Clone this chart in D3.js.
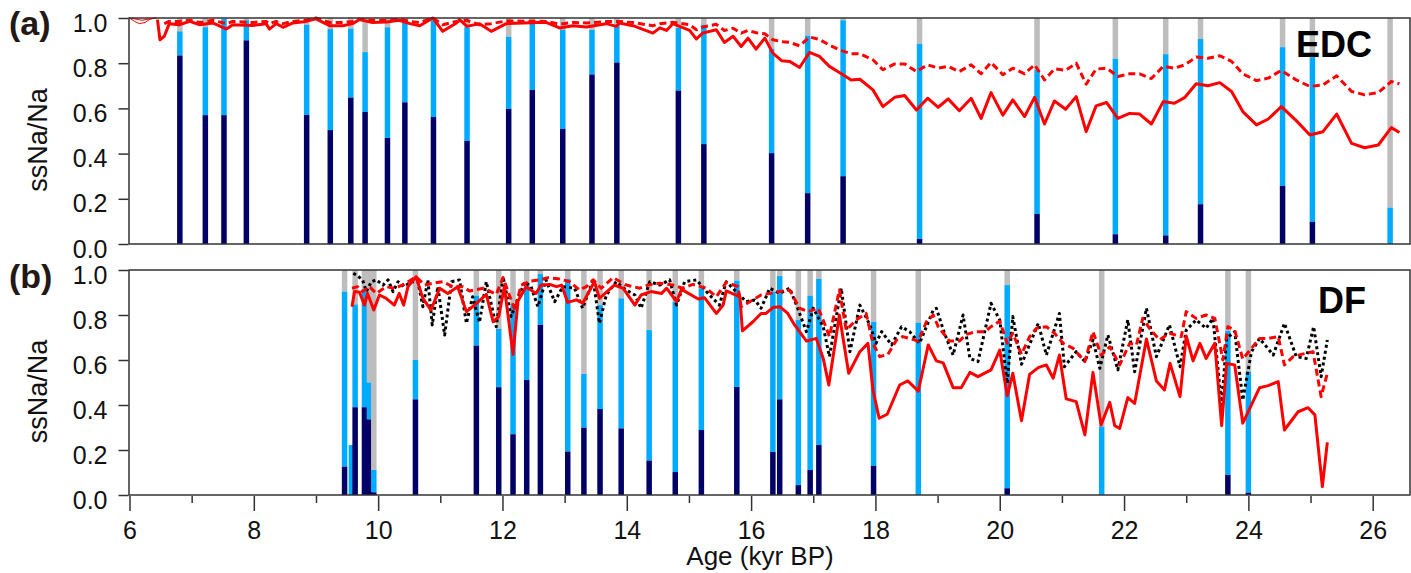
<!DOCTYPE html>
<html>
<head>
<meta charset="utf-8">
<script src="https://cdn.jsdelivr.net/npm/d3@7"></script>
<style>
  body { margin: 0; background: #fff; }
  svg { display: block; font-family: "Liberation Sans", Arial, Helvetica, sans-serif; }
</style>
</head>
<body>
<div id="chart"></div>
<script>
// ---- data ----
const majorAges = [6, 8, 10, 12, 14, 16, 18, 20, 22, 24, 26]
const minorAges = [7, 9, 11, 13, 15, 17, 19, 21, 23, 25]
const ratioTicks = [0, 0.2, 0.4, 0.6, 0.8, 1.0]

// EDC (a): stacked bars, dark part / light blue top / grey up to 1
const edcBarAge  = [6.81, 7.22, 7.52, 7.88, 8.85, 9.23, 9.56, 9.79, 10.15, 10.43, 10.89, 11.43, 12.10, 12.48, 12.97, 13.44, 13.84, 14.83, 15.24, 16.33, 16.91, 17.48, 18.71, 20.60, 21.86, 22.67, 23.23, 24.55, 25.03, 26.28]
const edcBarDark = [0.834, 0.570, 0.570, 0.901, 0.571, 0.504, 0.648, 0.584, 0.469, 0.627, 0.562, 0.456, 0.598, 0.682, 0.509, 0.750, 0.803, 0.679, 0.442, 0.402, 0.225, 0.300, 0.022, 0.133, 0.043, 0.038, 0.176, 0.257, 0.098, 0]
const edcBarBlue = [0.941, 0.959, 0.996, 0.990, 0.970, 0.951, 0.953, 0.849, 0.959, 0.985, 0.990, 0.959, 0.916, 0.985, 0.948, 0.948, 0.970, 0.956, 0.970, 0.864, 0.922, 0.990, 0.886, 0.771, 0.820, 0.840, 0.907, 0.871, 0.827, 0.161]
const edcBarTop  = [1, 1, 1, 1, 1, 1, 1, 1, 1, 1, 1, 1, 1, 1, 1, 1, 1, 1, 1, 1, 1, 1, 1, 1, 1, 1, 1, 1, 1, 1]

// thin start of the EDC curves
const edcThinA = [[6.0, 1.0], [6.08, 0.985], [6.16, 0.975], [6.25, 0.98], [6.33, 0.995], [6.43, 1.0]]
const edcThinB = [[6.0, 1.0], [6.1, 0.995], [6.2, 0.99], [6.3, 0.995], [6.43, 1.0]]

const edcSolid = [[6.45,0.993],[6.49,0.904],[6.56,0.919],[6.64,0.975],[6.80,0.970],[6.97,0.985],[7.13,0.970],[7.34,0.978],[7.56,0.951],[7.66,0.970],[7.98,0.967],[8.20,0.975],[8.25,0.951],[8.36,0.975],[8.47,0.959],[8.63,0.978],[8.84,0.985],[9.00,0.996],[9.22,0.966],[9.43,0.966],[9.59,0.975],[9.70,0.993],[9.91,0.980],[10.13,0.982],[10.34,0.990],[10.51,0.975],[10.67,0.966],[10.88,1.0],[11.04,0.941],[11.26,0.978],[11.31,0.993],[11.43,0.963],[11.63,0.975],[11.82,0.941],[12.06,0.975],[12.70,0.981],[12.92,0.956],[13.13,0.966],[13.35,0.960],[13.67,0.975],[13.83,0.963],[13.88,0.978],[14.10,0.966],[14.42,0.933],[14.53,0.956],[14.64,0.945],[14.74,0.975],[15.01,0.945],[15.12,0.907],[15.22,0.933],[15.44,0.948],[15.57,0.892],[15.71,0.919],[15.84,0.874],[15.95,0.911],[16.08,0.862],[16.22,0.911],[16.35,0.845],[16.49,0.811],[16.62,0.808],[16.78,0.781],[16.94,0.848],[17.10,0.830],[17.26,0.786],[17.42,0.759],[17.61,0.726],[17.75,0.729],[17.96,0.682],[18.12,0.608],[18.31,0.649],[18.47,0.657],[18.66,0.593],[18.84,0.645],[19.01,0.605],[19.17,0.642],[19.35,0.590],[19.54,0.645],[19.70,0.556],[19.86,0.670],[20.05,0.570],[20.21,0.638],[20.40,0.564],[20.56,0.649],[20.72,0.531],[20.88,0.633],[21.06,0.596],[21.23,0.652],[21.39,0.497],[21.55,0.611],[21.72,0.626],[21.90,0.556],[22.09,0.578],[22.25,0.575],[22.44,0.531],[22.63,0.630],[22.81,0.623],[22.98,0.649],[23.16,0.709],[23.35,0.700],[23.54,0.714],[23.73,0.675],[23.91,0.586],[24.13,0.527],[24.32,0.553],[24.53,0.608],[24.77,0.546],[24.99,0.482],[25.20,0.497],[25.42,0.575],[25.66,0.445],[25.87,0.426],[26.09,0.438],[26.30,0.515],[26.43,0.493]]

const edcDash = [[6.56,0.975],[6.64,0.985],[6.80,0.985],[6.97,0.99],[7.13,0.98],[7.34,0.99],[7.56,0.975],[7.66,0.985],[7.98,0.98],[8.20,0.985],[8.25,0.975],[8.36,0.985],[8.47,0.975],[8.63,0.985],[8.84,0.99],[9.00,1.0],[9.22,0.98],[9.43,0.98],[9.59,0.985],[9.70,0.995],[9.91,0.99],[10.13,0.99],[10.34,0.995],[10.51,0.985],[10.67,0.98],[10.88,1.0],[11.04,0.97],[11.26,0.985],[11.42,0.99],[11.63,0.97],[11.82,0.975],[12.06,0.987],[12.70,0.985],[12.92,0.973],[13.13,0.98],[13.35,0.978],[13.67,0.984],[13.88,0.984],[14.10,0.98],[14.42,0.966],[14.53,0.975],[14.74,0.981],[15.01,0.97],[15.12,0.948],[15.22,0.96],[15.44,0.972],[15.57,0.945],[15.71,0.955],[15.84,0.933],[15.95,0.945],[16.08,0.935],[16.22,0.93],[16.35,0.904],[16.49,0.895],[16.62,0.892],[16.78,0.877],[16.94,0.916],[17.10,0.905],[17.26,0.88],[17.42,0.859],[17.61,0.842],[17.75,0.842],[17.96,0.815],[18.12,0.771],[18.31,0.797],[18.47,0.797],[18.66,0.763],[18.84,0.793],[19.01,0.778],[19.17,0.786],[19.35,0.763],[19.54,0.793],[19.70,0.753],[19.86,0.803],[20.05,0.749],[20.21,0.778],[20.40,0.753],[20.56,0.793],[20.72,0.726],[20.88,0.775],[21.06,0.768],[21.23,0.800],[21.39,0.707],[21.55,0.774],[21.72,0.778],[21.90,0.741],[22.09,0.753],[22.25,0.753],[22.44,0.732],[22.63,0.786],[22.81,0.778],[22.98,0.793],[23.16,0.827],[23.35,0.822],[23.54,0.833],[23.73,0.808],[23.91,0.753],[24.13,0.723],[24.32,0.734],[24.53,0.768],[24.77,0.726],[24.99,0.697],[25.20,0.704],[25.42,0.744],[25.66,0.675],[25.87,0.660],[26.09,0.670],[26.30,0.719],[26.43,0.709]]

// DF (b)
const dfBarAge  = [9.46, 9.57, 9.63, 9.78, 9.86, 9.93, 10.60, 11.58, 11.94, 12.17, 12.39, 12.61, 13.05, 13.31, 13.57, 13.91, 14.36, 14.78, 15.20, 15.77, 16.35, 16.46, 16.76, 16.95, 17.09, 17.97, 18.69, 20.12, 21.64, 23.67, 24.00]
const dfBarDark = [0.126, 0, 0.39, 0.39, 0.336, 0.012, 0.425, 0.664, 0.479, 0.270, 0.511, 0.756, 0.193, 0.299, 0.382, 0.296, 0.153, 0.102, 0.289, 0.480, 0.191, 0.425, 0.044, 0.111, 0.222, 0.130, 0, 0.03, 0, 0.089, 0.01]
const dfBarBlue = [0.904, 0.222, 0.847, 0.914, 0.50, 0.111, 0.60, 0.886, 0.738, 0.844, 0.941, 0.982, 0.96, 0.538, 0.844, 0.874, 0.733, 0.859, 0.919, 0.953, 0.904, 0.973, 0.778, 0.886, 0.96, 0.77, 0.766, 0.933, 0.304, 0.729, 0.548]
const dfBarTop  = [1, 0.222, 1, 1, 1, 1, 1, 1, 1, 1, 1, 1, 1, 1, 1, 1, 1, 1, 1, 1, 1, 1, 1, 1, 1, 1, 1, 1, 1, 1, 1]

const dfSolid = [[9.58,0.837],[9.62,0.904],[9.70,0.901],[9.78,0.844],[9.83,0.896],[9.93,0.822],[10.02,0.889],[10.13,0.874],[10.26,0.844],[10.34,0.896],[10.41,0.844],[10.48,0.926],[10.61,0.970],[10.72,0.874],[10.85,0.822],[10.99,0.919],[11.12,0.896],[11.28,0.926],[11.42,0.815],[11.55,0.844],[11.74,0.892],[11.85,0.770],[11.94,0.793],[12.03,0.926],[12.17,0.625],[12.25,0.862],[12.38,0.926],[12.54,0.896],[12.62,0.933],[12.76,0.936],[12.87,0.926],[12.95,0.933],[13.05,0.856],[13.19,0.867],[13.29,0.852],[13.48,0.948],[13.56,0.874],[13.80,0.933],[13.94,0.919],[14.13,0.844],[14.23,0.889],[14.39,0.904],[14.56,0.896],[14.64,0.919],[14.80,0.859],[14.88,0.914],[15.15,0.871],[15.25,0.877],[15.44,0.807],[15.55,0.844],[15.60,0.907],[15.82,0.881],[15.86,0.729],[16.03,0.770],[16.16,0.807],[16.24,0.807],[16.35,0.833],[16.46,0.837],[16.59,0.807],[16.70,0.756],[16.89,0.684],[17.05,0.696],[17.16,0.607],[17.25,0.489],[17.42,0.800],[17.57,0.541],[17.75,0.637],[17.88,0.674],[17.96,0.467],[18.06,0.341],[18.19,0.359],[18.39,0.489],[18.52,0.507],[18.69,0.462],[18.85,0.667],[18.98,0.596],[19.09,0.587],[19.25,0.477],[19.38,0.477],[19.52,0.545],[19.65,0.526],[19.86,0.556],[20.00,0.644],[20.12,0.441],[20.21,0.541],[20.35,0.330],[20.48,0.536],[20.62,0.566],[20.75,0.578],[20.86,0.519],[20.96,0.622],[21.07,0.427],[21.23,0.415],[21.37,0.267],[21.50,0.545],[21.63,0.311],[21.77,0.412],[21.85,0.308],[21.93,0.296],[22.06,0.433],[22.17,0.407],[22.36,0.693],[22.52,0.507],[22.65,0.467],[22.74,0.585],[22.90,0.437],[23.00,0.707],[23.11,0.596],[23.22,0.674],[23.32,0.607],[23.46,0.674],[23.57,0.308],[23.65,0.585],[23.78,0.578],[23.91,0.319],[24.18,0.477],[24.32,0.486],[24.48,0.504],[24.58,0.289],[24.80,0.370],[24.96,0.388],[25.07,0.356],[25.19,0.037],[25.27,0.234]]

const dfDash = [[9.58,0.919],[9.67,0.926],[9.75,0.904],[9.86,0.926],[9.97,0.896],[10.13,0.926],[10.26,0.919],[10.42,0.936],[10.61,0.970],[10.75,0.933],[10.88,0.941],[11.04,0.948],[11.20,0.926],[11.36,0.926],[11.47,0.907],[11.69,0.919],[11.90,0.892],[12.01,0.966],[12.11,0.889],[12.20,0.822],[12.30,0.933],[12.46,0.951],[12.60,0.956],[12.73,0.966],[12.92,0.960],[13.08,0.948],[13.24,0.911],[13.35,0.926],[13.46,0.956],[13.59,0.919],[13.78,0.966],[13.99,0.933],[14.21,0.919],[14.34,0.933],[14.53,0.941],[14.74,0.933],[14.90,0.919],[15.06,0.936],[15.28,0.919],[15.44,0.881],[15.60,0.945],[15.79,0.926],[15.84,0.837],[15.98,0.859],[16.16,0.889],[16.30,0.896],[16.46,0.904],[16.62,0.911],[16.78,0.830],[16.92,0.815],[17.08,0.830],[17.18,0.763],[17.26,0.704],[17.42,0.911],[17.53,0.733],[17.69,0.778],[17.85,0.807],[17.96,0.674],[18.07,0.615],[18.20,0.625],[18.34,0.689],[18.44,0.704],[18.55,0.696],[18.69,0.684],[18.82,0.770],[18.93,0.800],[19.01,0.748],[19.19,0.684],[19.35,0.684],[19.46,0.714],[19.62,0.726],[19.76,0.726],[19.86,0.748],[20.00,0.773],[20.12,0.674],[20.21,0.719],[20.35,0.625],[20.48,0.704],[20.59,0.741],[20.75,0.748],[20.88,0.719],[21.02,0.674],[21.18,0.652],[21.37,0.593],[21.50,0.726],[21.63,0.622],[21.77,0.659],[21.93,0.578],[22.09,0.674],[22.20,0.667],[22.30,0.785],[22.41,0.741],[22.57,0.689],[22.73,0.719],[22.92,0.704],[23.00,0.815],[23.16,0.785],[23.32,0.800],[23.46,0.785],[23.59,0.600],[23.67,0.748],[23.78,0.733],[23.91,0.604],[24.05,0.652],[24.18,0.696],[24.32,0.696],[24.48,0.704],[24.58,0.578],[24.72,0.615],[24.85,0.625],[25.04,0.637],[25.17,0.437],[25.27,0.541]]

const dfDot = [[9.60,0.985],[9.65,0.978],[9.75,0.956],[9.81,0.904],[9.89,0.948],[9.97,0.956],[10.08,0.933],[10.16,0.956],[10.24,0.904],[10.32,0.948],[10.42,0.926],[10.53,0.948],[10.64,0.948],[10.72,0.837],[10.80,0.956],[10.87,0.756],[10.96,0.926],[11.07,0.711],[11.18,0.948],[11.31,0.956],[11.42,0.763],[11.52,0.881],[11.63,0.767],[11.74,0.948],[11.90,0.748],[12.01,0.970],[12.14,0.793],[12.25,0.874],[12.36,0.948],[12.46,0.926],[12.57,0.837],[12.70,0.956],[12.84,0.859],[12.97,0.926],[13.16,0.919],[13.29,0.830],[13.46,0.956],[13.56,0.763],[13.67,0.889],[13.83,0.948],[13.99,0.911],[14.13,0.889],[14.23,0.830],[14.37,0.948],[14.53,0.933],[14.69,0.956],[14.80,0.844],[14.93,0.948],[15.12,0.956],[15.33,0.889],[15.49,0.844],[15.60,0.948],[15.76,0.904],[15.92,0.859],[16.06,0.867],[16.16,0.830],[16.30,0.919],[16.46,0.896],[16.62,0.919],[16.75,0.830],[16.89,0.726],[17.00,0.830],[17.16,0.748],[17.26,0.615],[17.45,0.919],[17.59,0.637],[17.75,0.844],[17.91,0.756],[18.01,0.674],[18.10,0.726],[18.26,0.667],[18.42,0.748],[18.55,0.726],[18.71,0.674],[18.93,0.822],[18.98,0.830],[19.11,0.719],[19.25,0.622],[19.41,0.800],[19.52,0.607],[19.65,0.593],[19.86,0.852],[20.00,0.778],[20.12,0.496],[20.21,0.793],[20.35,0.581],[20.62,0.763],[20.75,0.622],[20.96,0.807],[21.04,0.570],[21.23,0.637],[21.37,0.593],[21.50,0.689],[21.61,0.563],[21.74,0.711],[21.90,0.556],[22.06,0.778],[22.17,0.548],[22.36,0.830],[22.52,0.615],[22.73,0.756],[22.90,0.570],[23.00,0.733],[23.16,0.778],[23.32,0.741],[23.43,0.785],[23.57,0.400],[23.65,0.696],[23.78,0.726],[23.91,0.422],[24.05,0.637],[24.18,0.696],[24.40,0.622],[24.58,0.763],[24.77,0.615],[24.93,0.607],[25.05,0.748],[25.17,0.526],[25.27,0.689]]

// ---- layout ----
const W = 1411, H = 573
const left = 129.5, right = 1410
const panelA = { top: 18, bottom: 244 }
const panelB = { top: 270, bottom: 495 }
const barW = 5.5

const colNavy = "#000066", colBlue = "#00aaff", colGrey = "#bdbdbd", colRed = "#ff0000"

const svg = d3.select("#chart").append("svg")
  .attr("width", W).attr("height", H)

const x = d3.scaleLinear().domain([6, 26.6]).range([left, right])

function drawPanel(p, bars, lines, tag, tagY, name, nameY) {
  const y = d3.scaleLinear().domain([0, 1]).range([p.bottom, p.top])
  const g = svg.append("g")

  // stacked bars: grey on top, light blue, then dark part at bottom
  const rows = d3.range(bars.age.length).map(i => ({
    age: bars.age[i], dark: bars.dark[i], blue: bars.blue[i], top: bars.top[i]
  }))
  const bg = g.append("g")
  rows.forEach(d => {
    const bx = x(d.age) - barW / 2
    bg.append("rect").attr("x", bx).attr("width", barW)
      .attr("y", y(d.top)).attr("height", y(d.blue) - y(d.top)).attr("fill", colGrey)
    bg.append("rect").attr("x", bx).attr("width", barW)
      .attr("y", y(d.blue)).attr("height", y(d.dark) - y(d.blue)).attr("fill", colBlue)
    bg.append("rect").attr("x", bx).attr("width", barW)
      .attr("y", y(d.dark)).attr("height", y(0) - y(d.dark)).attr("fill", colNavy)
  })

  const line = d3.line().x(d => x(d[0])).y(d => y(d[1]))
  lines.forEach(l => {
    g.append("path").datum(l.data)
      .attr("d", line)
      .attr("fill", "none")
      .attr("stroke", l.color)
      .attr("stroke-width", l.width)
      .attr("stroke-dasharray", l.dash || null)
      .attr("stroke-linejoin", "round")
  })

  // frame
  g.append("rect")
    .attr("x", left - 0.5).attr("y", p.top)
    .attr("width", right - left + 0.5).attr("height", p.bottom - p.top)
    .attr("fill", "none").attr("stroke", "#333").attr("stroke-width", 1.5)

  // left axis
  const ax = g.append("g")
    .attr("transform", `translate(${left - 1},0)`)
    .call(d3.axisLeft(y).tickValues(ratioTicks).tickSize(10).tickPadding(11)
      .tickFormat(d3.format(".1f")))
  ax.select(".domain").remove()
  ax.selectAll(".tick line").attr("stroke", "#333").attr("stroke-width", 1.5)
  ax.selectAll(".tick text").attr("dy", "0.52em")
    .style("font-size", "25px").attr("fill", "#111")

  g.append("text")
    .attr("transform", `translate(47,${(p.top + p.bottom) / 2 + 9}) rotate(-90)`)
    .attr("text-anchor", "middle")
    .style("font-size", "27px").attr("fill", "#111")
    .text("ssNa/Na")

  g.append("text")
    .attr("x", 9).attr("y", tagY)
    .style("font-size", "34px").style("font-weight", "bold")
    .attr("fill", "#231815")
    .text(tag)

  g.append("text")
    .attr("x", name === "EDC" ? 1372 : 1366).attr("y", nameY)
    .attr("text-anchor", "end")
    .style("font-size", "36px").style("font-weight", "bold")
    .attr("fill", "#000")
    .text(name)

  return y
}

drawPanel(panelA,
  { age: edcBarAge, dark: edcBarDark, blue: edcBarBlue, top: edcBarTop },
  [
    { data: edcThinA, color: colRed, width: 1 },
    { data: edcThinB, color: colRed, width: 1 },
    { data: edcDash, color: colRed, width: 3, dash: "7,4" },
    { data: edcSolid, color: colRed, width: 3 }
  ], "(a)", 35, "EDC", 57)

drawPanel(panelB,
  { age: dfBarAge, dark: dfBarDark, blue: dfBarBlue, top: dfBarTop },
  [
    { data: dfDot, color: "#000", width: 3, dash: "3,3" },
    { data: dfDash, color: colRed, width: 3, dash: "7,4" },
    { data: dfSolid, color: colRed, width: 3 }
  ], "(b)", 288, "DF", 313)

// bottom age axis (only under panel b)
const xMajor = svg.append("g")
  .attr("transform", `translate(0,${panelB.bottom + 1})`)
  .call(d3.axisBottom(x).tickValues(majorAges).tickSize(15).tickPadding(10))
xMajor.select(".domain").remove()
xMajor.selectAll(".tick line").attr("stroke", "#333").attr("stroke-width", 1.5)
xMajor.selectAll(".tick text").style("font-size", "25px").attr("fill", "#111")

const xMinor = svg.append("g")
  .attr("transform", `translate(0,${panelB.bottom + 1})`)
  .call(d3.axisBottom(x).tickValues(minorAges).tickSize(7).tickFormat(""))
xMinor.select(".domain").remove()
xMinor.selectAll(".tick line").attr("stroke", "#333").attr("stroke-width", 1.5)

svg.append("text")
  .attr("x", 760).attr("y", 565)
  .attr("text-anchor", "middle")
  .style("font-size", "26px").attr("fill", "#111")
  .text("Age (kyr BP)")
</script>
</body>
</html>
